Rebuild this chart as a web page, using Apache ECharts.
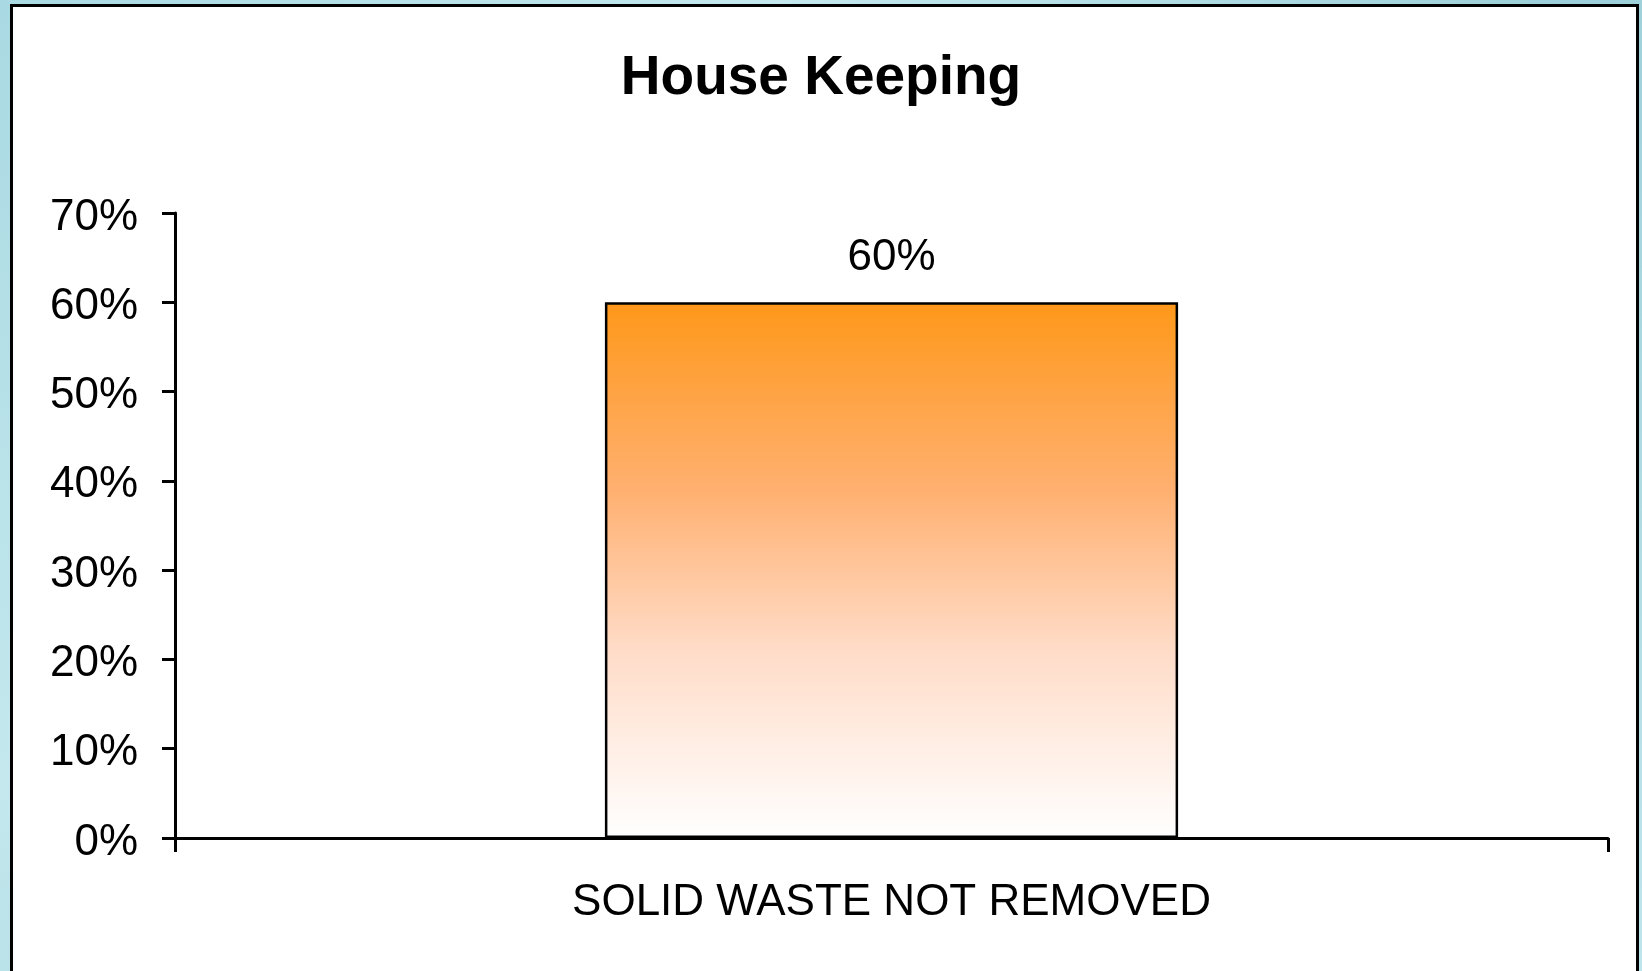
<!DOCTYPE html>
<html>
<head>
<meta charset="utf-8">
<script src="https://cdn.jsdelivr.net/npm/echarts@6/dist/echarts.min.js"></script>
<style>
  html, body { margin: 0; padding: 0; width: 1642px; height: 971px; overflow: hidden; }
  body { background: linear-gradient(135deg, #a9d9e2 0%, #c4e8ee 30%, #9ccfd9 60%, #bfe5ec 100%); position: relative; }
  #frame { position: absolute; left: 10px; top: 4px; width: 1623px; height: 980px; background: #fff;
           border-left: 3px solid #000; border-top: 3px solid #000; border-right: 3px solid #000; }
  #chart { position: absolute; left: 0; top: 0; width: 1642px; height: 971px; }
</style>
</head>
<body>
<div id="frame"></div>
<div id="chart"></div>
<script>
const titleText = 'House Keeping';
const categories = ['SOLID WASTE NOT REMOVED'];
const values = [0.60];
const yTicks = { min: 0, max: 0.7, interval: 0.1 };

const font = '"Liberation Sans", Arial, sans-serif';
const chart = echarts.init(document.getElementById('chart'), null, { renderer: 'canvas' });
chart.setOption({
  backgroundColor: 'transparent',
  animation: false,
  title: {
    text: titleText,
    left: 'center',
    top: 46,
    textStyle: { fontFamily: font, fontSize: 55, fontWeight: 'bold', color: '#000' }
  },
  grid: { left: 175, right: 34, top: 213, bottom: 133 },
  xAxis: {
    type: 'category',
    data: categories,
    axisLine: { lineStyle: { color: '#000', width: 3 } },
    axisTick: { show: true, length: 14, lineStyle: { color: '#000', width: 3 } },
    axisLabel: { color: '#000', fontFamily: font, fontSize: 44, margin: 43 },
    splitLine: { show: false }
  },
  yAxis: {
    type: 'value',
    min: yTicks.min, max: yTicks.max, interval: yTicks.interval,
    axisLine: { show: true, lineStyle: { color: '#000', width: 3 } },
    axisTick: { show: true, length: 13, lineStyle: { color: '#000', width: 3 } },
    axisLabel: {
      margin: 37,
      formatter: v => '{a|' + Math.round(v * 100) + '%}',
      rich: { a: { color: '#000', fontFamily: font, fontSize: 44, padding: [9, 0, 0, 0] } }
    },
    splitLine: { show: false }
  },
  series: [{
    type: 'bar',
    data: values,
    barWidth: '40%',
    itemStyle: {
      borderColor: '#000',
      borderWidth: 2.5,
      color: new echarts.graphic.LinearGradient(0, 0, 0, 1, [
        { offset: 0, color: '#ff981a' },
        { offset: 0.35, color: '#ffb070' },
        { offset: 0.65, color: '#ffdcc8' },
        { offset: 1, color: '#ffffff' }
      ])
    },
    label: {
      show: true, position: 'top', distance: 22,
      color: '#000', fontFamily: font, fontSize: 44,
      formatter: p => Math.round(p.value * 100) + '%'
    }
  }]
});
</script>
</body>
</html>
